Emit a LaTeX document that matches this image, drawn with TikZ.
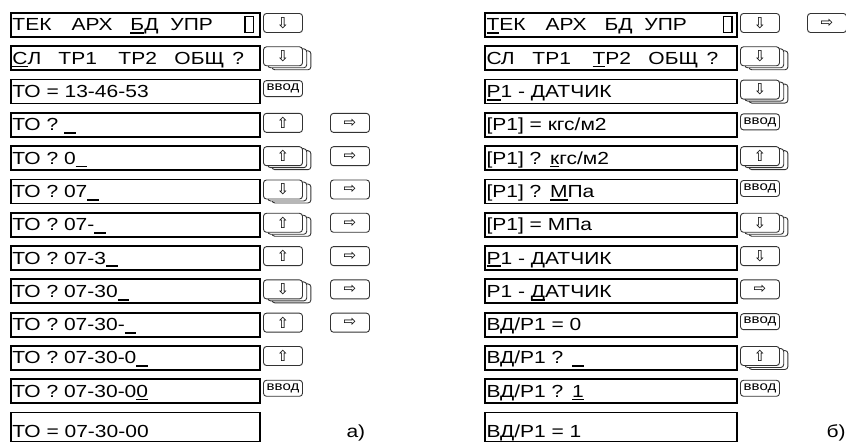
\documentclass[tikz,border=0pt]{standalone}
\usepackage{fontspec}
\setmainfont[FakeStretch=1.2]{Liberation Sans}
\newfontfamily\symfont{DejaVu Sans}
\usetikzlibrary{shadows}

\newsavebox{\ulbox}
\newcommand{\ulx}[1]{\leavevmode\sbox{\ulbox}{#1}\rlap{\rule[-3.2pt]{\wd\ulbox}{1.8pt}}\usebox{\ulbox}}
\newcommand{\cur}{\ulx{\phantom{0}}}
\newcommand{\blk}{{\setlength\fboxsep{0pt}\setlength\fboxrule{1.3pt}\raisebox{-1pt}{\fbox{\rule{0pt}{14.5pt}\hspace{7pt}}}}}

\tikzset{
  lcd/.style={draw, line width=1.8pt, outer sep=0pt, anchor=west, minimum height=24pt,
    inner xsep=1.5pt, inner ysep=0pt, text width=#1, align=left, text height=15pt, text depth=3pt},
  keybox/.style={draw=black!80, line width=0.9pt, rounded corners=3pt, fill=white,
    minimum width=39pt, minimum height=19pt, inner sep=0pt, yshift=2pt,
    font=\symfont\fontsize{15}{15}\selectfont},
  keystack/.style={keybox,
    copy shadow={shadow xshift=8.4pt, shadow yshift=-4pt, draw=black!80, fill=white},
    copy shadow={shadow xshift=4.2pt, shadow yshift=-2pt, draw=black!80, fill=white}},
  enterbox/.style={keybox, minimum height=16pt, yshift=1pt, font=\fontsize{12.5}{12.5}\selectfont},
}

\begin{document}
\begin{tikzpicture}[x=1pt, y=-1pt, font=\fontsize{17.5}{20}\selectfont]
  \useasboundingbox (0,0) rectangle (846,443);
  % a) time entry
  \foreach \t [count=\i from 0] in {
      {\makebox[59pt][l]{ТЕК}\makebox[59pt][l]{АРХ}\makebox[40pt][l]{\ulx{Б}Д}УПР\hfill\blk\kern4.5pt},
      {\makebox[46pt][l]{\ulx{С}Л}\makebox[60pt][l]{ТР1}\makebox[56pt][l]{ТР2}\makebox[58pt][l]{ОБЩ}?},
      {ТО = 13-46-53}, {ТО ? \cur}, {ТО ? 0\cur}, {ТО ? 07\cur}, {ТО ? 07-\cur},
      {ТО ? 07-3\cur}, {ТО ? 07-30\cur}, {ТО ? 07-30-\cur}, {ТО ? 07-30-0\cur},
      {ТО ? 07-30-0\ulx{0}}}
    \node[lcd=246pt] (a\i) at (11,25+33.3*\i) {\t};
  \node[lcd=246pt, minimum height=29pt, text height=20pt, text depth=0pt] (a12) at (11,427) {ТО = 07-30-00};
  \foreach \r/\s/\g in {0/keybox/⇩, 1/keystack/⇩, 2/enterbox/ввод, 3/keybox/⇧, 4/keystack/⇧,
      5/keystack/⇩, 6/keystack/⇧, 7/keybox/⇧, 8/keystack/⇩, 9/keybox/⇧, 10/keybox/⇧, 11/enterbox/ввод}
    \node[\s] (ka\r) at ([xshift=23pt]a\r.east) {\g};
  \foreach \r in {3,...,9}
    \node[keybox] (kra\r) at ([xshift=90pt]a\r.east) {⇨};
  \node[anchor=base west] (la) at (343,437) {а)};

  % b) sensor units and offset
  \foreach \t [count=\i from 0] in {
      {\makebox[59pt][l]{\ulx{Т}ЕК}\makebox[59pt][l]{АРХ}\makebox[40pt][l]{БД}УПР\hfill\blk\kern3pt},
      {\makebox[46pt][l]{СЛ}\makebox[60pt][l]{ТР1}\makebox[56pt][l]{\ulx{Т}Р2}\makebox[58pt][l]{ОБЩ}?},
      {\ulx{P}1 - ДАТЧИК}, {[P1] = кгс/м2}, {[P1] ? \ulx{к}гс/м2}, {[P1] ? \ulx{М}Па},
      {[P1] = МПа}, {\ulx{P}1 - ДАТЧИК}, {P1 - \ulx{Д}АТЧИК}, {ВД/P1 = 0},
      {ВД/P1 ? \cur}, {ВД/P1 ? \ulx{1}}}
    \node[lcd=249pt] (b\i) at (485,25+33.3*\i) {\t};
  \node[lcd=249pt, minimum height=29pt, text height=20pt, text depth=0pt] (b12) at (485,427) {ВД/P1 = 1};
  \foreach \r/\s/\g in {0/keybox/⇩, 1/keystack/⇩, 2/keystack/⇩, 3/enterbox/ввод, 4/keystack/⇧,
      5/enterbox/ввод, 6/keystack/⇩, 7/keybox/⇩, 8/keybox/⇨, 9/enterbox/ввод, 10/keystack/⇧, 11/enterbox/ввод}
    \node[\s] (kb\r) at ([xshift=23pt]b\r.east) {\g};
  \node[keybox] (krb0) at ([xshift=90pt]b0.east) {⇨};
  \node[anchor=base west] (lb) at (823,437) {б)};
\end{tikzpicture}
\end{document}
